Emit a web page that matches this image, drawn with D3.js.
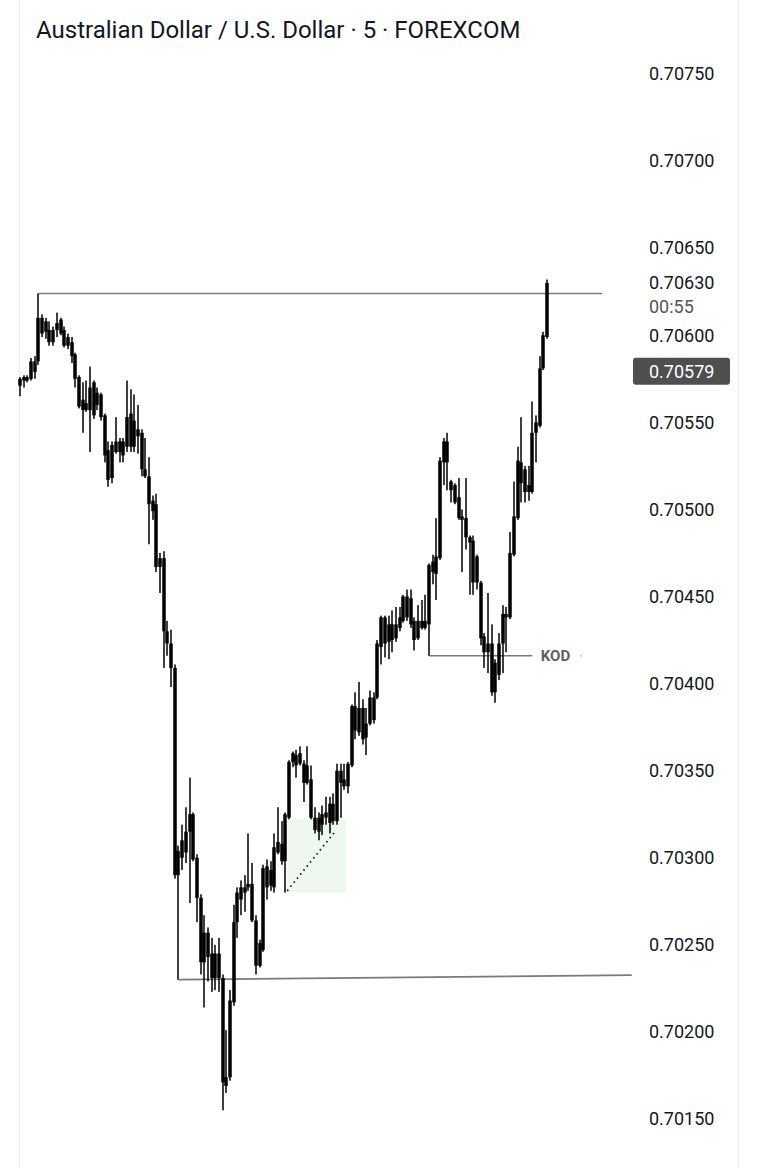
<!DOCTYPE html>
<html>
<head>
<meta charset="utf-8">
<script src="https://cdn.jsdelivr.net/npm/d3@7"></script>
<style>
  html, body { margin: 0; padding: 0; background: #fff; }
  svg { display: block; font-family: Roboto, "Noto Sans", sans-serif; }
</style>
</head>
<body>
<div id="chart"></div>
<script>
// AUD/USD 5m candles
var opens = [0.70571,0.70574,0.70576,0.70575,0.70585,0.70585,0.70610,0.70602,0.70603,0.70596,
  0.70603,0.70609,0.70603,0.70594,0.70596,0.70589,0.70576,0.70563,0.70557,0.70557,
  0.70573,0.70560,0.70566,0.70554,0.70534,0.70518,0.70539,0.70533,0.70539,0.70536,
  0.70555,0.70551,0.70542,0.70544,0.70523,0.70519,0.70505,0.70503,0.70467,0.70472,
  0.70430,0.70423,0.70409,0.70290,0.70300,0.70315,0.70315,0.70325,0.70300,0.70277,
  0.70240,0.70257,0.70245,0.70231,0.70245,0.70231,0.70169,0.70174,0.70217,0.70263,
  0.70276,0.70283,0.70283,0.70285,0.70264,0.70238,0.70247,0.70295,0.70284,0.70283,
  0.70303,0.70308,0.70298,0.70323,0.70355,0.70359,0.70354,0.70354,0.70343,0.70345,
  0.70323,0.70315,0.70325,0.70323,0.70331,0.70321,0.70321,0.70350,0.70345,0.70341,
  0.70353,0.70387,0.70372,0.70386,0.70369,0.70377,0.70392,0.70392,0.70421,0.70438,
  0.70424,0.70434,0.70426,0.70432,0.70436,0.70450,0.70449,0.70436,0.70426,0.70436,
  0.70432,0.70434,0.70470,0.70463,0.70472,0.70527,0.70539,0.70516,0.70514,0.70507,
  0.70496,0.70495,0.70484,0.70482,0.70458,0.70458,0.70427,0.70418,0.70423,0.70395,
  0.70405,0.70423,0.70440,0.70438,0.70474,0.70495,0.70527,0.70523,0.70510,0.70510,
  0.70544,0.70548,0.70581,0.70599];
var highs = [0.70576,0.70577,0.70577,0.70587,0.70588,0.70624,0.70612,0.70610,0.70608,0.70605,
  0.70613,0.70610,0.70605,0.70601,0.70599,0.70590,0.70577,0.70573,0.70574,0.70582,
  0.70574,0.70570,0.70567,0.70555,0.70539,0.70539,0.70553,0.70541,0.70541,0.70574,
  0.70569,0.70566,0.70560,0.70546,0.70541,0.70530,0.70508,0.70509,0.70475,0.70476,
  0.70436,0.70431,0.70411,0.70307,0.70319,0.70329,0.70346,0.70326,0.70302,0.70279,
  0.70267,0.70260,0.70254,0.70250,0.70254,0.70233,0.70201,0.70224,0.70273,0.70283,
  0.70287,0.70290,0.70314,0.70297,0.70267,0.70253,0.70296,0.70299,0.70298,0.70314,
  0.70329,0.70321,0.70326,0.70356,0.70361,0.70362,0.70364,0.70356,0.70364,0.70353,
  0.70329,0.70326,0.70330,0.70335,0.70335,0.70337,0.70354,0.70354,0.70354,0.70355,
  0.70388,0.70395,0.70401,0.70391,0.70386,0.70396,0.70395,0.70425,0.70439,0.70439,
  0.70439,0.70442,0.70444,0.70444,0.70451,0.70454,0.70454,0.70438,0.70445,0.70448,
  0.70451,0.70469,0.70474,0.70495,0.70530,0.70541,0.70544,0.70517,0.70515,0.70518,
  0.70500,0.70518,0.70485,0.70485,0.70474,0.70459,0.70429,0.70452,0.70434,0.70414,
  0.70429,0.70445,0.70444,0.70487,0.70516,0.70536,0.70553,0.70525,0.70525,0.70562,
  0.70554,0.70588,0.70602,0.70632];
var lows = [0.70565,0.70570,0.70573,0.70574,0.70575,0.70583,0.70599,0.70598,0.70594,0.70594,
  0.70599,0.70600,0.70593,0.70592,0.70584,0.70570,0.70558,0.70544,0.70556,0.70533,
  0.70552,0.70557,0.70551,0.70527,0.70513,0.70515,0.70532,0.70527,0.70527,0.70533,
  0.70533,0.70533,0.70532,0.70519,0.70518,0.70480,0.70494,0.70464,0.70452,0.70409,
  0.70416,0.70398,0.70288,0.70230,0.70293,0.70297,0.70274,0.70298,0.70263,0.70233,
  0.70214,0.70229,0.70223,0.70224,0.70223,0.70155,0.70165,0.70172,0.70215,0.70254,
  0.70267,0.70269,0.70281,0.70263,0.70233,0.70237,0.70246,0.70276,0.70281,0.70280,
  0.70302,0.70296,0.70280,0.70322,0.70352,0.70346,0.70353,0.70332,0.70342,0.70322,
  0.70314,0.70310,0.70313,0.70319,0.70314,0.70319,0.70319,0.70323,0.70339,0.70337,
  0.70352,0.70368,0.70370,0.70365,0.70359,0.70376,0.70377,0.70391,0.70411,0.70415,
  0.70414,0.70418,0.70424,0.70430,0.70435,0.70436,0.70432,0.70419,0.70425,0.70431,
  0.70431,0.70416,0.70457,0.70448,0.70471,0.70514,0.70511,0.70504,0.70503,0.70494,
  0.70464,0.70477,0.70451,0.70451,0.70454,0.70422,0.70409,0.70406,0.70393,0.70389,
  0.70402,0.70406,0.70418,0.70437,0.70473,0.70494,0.70504,0.70504,0.70505,0.70509,
  0.70527,0.70547,0.70580,0.70598];
var closes = [0.70575,0.70576,0.70574,0.70585,0.70579,0.70610,0.70601,0.70608,0.70596,0.70603,
  0.70607,0.70601,0.70594,0.70599,0.70588,0.70575,0.70559,0.70557,0.70561,0.70570,
  0.70554,0.70567,0.70553,0.70531,0.70517,0.70537,0.70533,0.70539,0.70531,0.70553,
  0.70536,0.70536,0.70546,0.70523,0.70519,0.70503,0.70499,0.70467,0.70472,0.70430,
  0.70423,0.70409,0.70290,0.70304,0.70310,0.70303,0.70325,0.70299,0.70277,0.70240,
  0.70257,0.70243,0.70231,0.70245,0.70231,0.70171,0.70174,0.70218,0.70263,0.70280,
  0.70283,0.70280,0.70285,0.70264,0.70238,0.70251,0.70294,0.70283,0.70293,0.70306,
  0.70309,0.70298,0.70325,0.70355,0.70360,0.70353,0.70360,0.70343,0.70353,0.70323,
  0.70316,0.70323,0.70319,0.70326,0.70320,0.70331,0.70350,0.70343,0.70341,0.70354,
  0.70387,0.70373,0.70386,0.70368,0.70377,0.70392,0.70379,0.70423,0.70438,0.70423,
  0.70434,0.70425,0.70434,0.70438,0.70450,0.70438,0.70434,0.70425,0.70436,0.70432,
  0.70436,0.70468,0.70464,0.70473,0.70528,0.70539,0.70527,0.70511,0.70504,0.70495,
  0.70494,0.70484,0.70481,0.70458,0.70473,0.70426,0.70418,0.70423,0.70395,0.70412,
  0.70423,0.70440,0.70438,0.70475,0.70496,0.70528,0.70515,0.70510,0.70514,0.70544,
  0.70550,0.70581,0.70600,0.70630];

var priceTicks = [0.7015, 0.7020, 0.7025, 0.7030, 0.7035, 0.7040, 0.7045,
  0.7050, 0.7055, 0.7060, 0.7065, 0.7070, 0.7075];
var lastPrice = 0.70630;
var countdown = '00:55';
var markedPrice = 0.70579;
var title = 'Australian Dollar / U.S. Dollar \u00b7 5 \u00b7 FOREXCOM';

// drawings, anchored on bar index + price
var trendLines = [
  { i1: 5, p1: 0.70624, i2: 158, p2: 0.70624 },
  { i1: 43, p1: 0.70230, i2: 166, p2: 0.702326 },
  { i1: 111, p1: 0.70416, i2: 139, p2: 0.70416 }
];
var kodLabel = { i: 141.3, p: 0.70416, text: 'KOD' };
var rangeBox = { i1: 72.5, i2: 88.5, pTop: 0.70322, pBottom: 0.70280 };
var dottedLine = { i1: 72.5, p1: 0.70281, i2: 85.5, p2: 0.70315 };

(function() {
  var width = 759;
  var height = 1168;
  var n = opens.length;

  var x = d3.scaleLinear().domain([0, n - 1]).range([20, 547]);
  var y = d3.scaleLinear().domain([0.7015, 0.7075]).range([1119, 74]);

  var svg = d3.select('#chart').append('svg')
    .attr('width', width).attr('height', height);

  svg.append('rect').attr('width', width).attr('height', height).attr('fill', '#fff');

  // pane borders
  svg.append('line').attr('x1', 19.5).attr('x2', 19.5).attr('y1', 0).attr('y2', height)
    .attr('stroke', '#ececec');
  svg.append('line').attr('x1', 738.5).attr('x2', 738.5).attr('y1', 0).attr('y2', height)
    .attr('stroke', '#ececec');

  svg.append('text')
    .attr('x', 36).attr('y', 38)
    .attr('font-size', 24)
    .attr('fill', '#131722')
    .text(title);

  // range box behind candles
  svg.append('rect')
    .attr('x', x(rangeBox.i1))
    .attr('y', y(rangeBox.pTop))
    .attr('width', x(rangeBox.i2) - x(rangeBox.i1))
    .attr('height', y(rangeBox.pBottom) - y(rangeBox.pTop))
    .attr('fill', '#eef8ef');

  var lines = svg.append('g').attr('class', 'drawings');
  lines.selectAll('line')
    .data(trendLines)
    .enter().append('line')
    .attr('x1', function(d) { return x(d.i1); })
    .attr('y1', function(d) { return y(d.p1); })
    .attr('x2', function(d) { return x(d.i2); })
    .attr('y2', function(d) { return y(d.p2); })
    .attr('stroke', '#7a7a7a')
    .attr('stroke-width', 1.6);

  // candles, all drawn black
  var idx = d3.range(n);
  var candles = svg.append('g').attr('class', 'candles');
  candles.selectAll('.wick')
    .data(idx)
    .enter().append('rect')
    .attr('class', 'wick')
    .attr('x', function(i) { return Math.round(x(i)) - 0.75; })
    .attr('y', function(i) { return y(highs[i]); })
    .attr('width', 1.5)
    .attr('height', function(i) { return Math.max(1, y(lows[i]) - y(highs[i])); })
    .attr('fill', '#000');
  candles.selectAll('.body')
    .data(idx)
    .enter().append('rect')
    .attr('class', 'body')
    .attr('x', function(i) { return Math.round(x(i)) - 1.75; })
    .attr('y', function(i) { return y(Math.max(opens[i], closes[i])); })
    .attr('width', 3.5)
    .attr('height', function(i) { return Math.max(1.5, Math.abs(y(opens[i]) - y(closes[i]))); })
    .attr('fill', '#000');

  svg.append('line')
    .attr('x1', x(dottedLine.i1)).attr('y1', y(dottedLine.p1))
    .attr('x2', x(dottedLine.i2)).attr('y2', y(dottedLine.p2))
    .attr('stroke', '#222')
    .attr('stroke-width', 1.8)
    .attr('stroke-dasharray', '1.6,3.6');

  svg.append('text')
    .attr('x', x(kodLabel.i)).attr('y', y(kodLabel.p))
    .attr('dy', '0.35em')
    .attr('font-size', 15)
    .attr('font-weight', 'bold')
    .attr('fill', '#606060')
    .text(kodLabel.text);
  svg.append('circle')
    .attr('cx', 581).attr('cy', y(kodLabel.p))
    .attr('r', 1)
    .attr('fill', '#c8c8c8');

  // price scale
  var axis = d3.axisRight(y)
    .tickValues(priceTicks)
    .tickFormat(d3.format('.5f'))
    .tickSize(0)
    .tickPadding(0);
  var gAxis = svg.append('g')
    .attr('transform', 'translate(649,0)')
    .call(axis);
  gAxis.select('.domain').remove();
  gAxis.selectAll('text')
    .attr('font-family', 'Roboto, sans-serif')
    .attr('font-size', 18)
    .attr('fill', '#131722');

  svg.append('text')
    .attr('x', 649).attr('y', y(lastPrice)).attr('dy', '0.35em')
    .attr('font-size', 18).attr('fill', '#131722')
    .text(d3.format('.5f')(lastPrice));
  svg.append('text')
    .attr('x', 649).attr('y', y(lastPrice) + 24).attr('dy', '0.35em')
    .attr('font-size', 18).attr('fill', '#555')
    .text(countdown);

  svg.append('rect')
    .attr('x', 633).attr('y', y(markedPrice) - 14)
    .attr('width', 97).attr('height', 27)
    .attr('rx', 3)
    .attr('fill', '#4f4f4f');
  svg.append('text')
    .attr('x', 649).attr('y', y(markedPrice)).attr('dy', '0.35em')
    .attr('font-size', 18).attr('fill', '#fff')
    .text(d3.format('.5f')(markedPrice));
}).call(this);
</script>
</body>
</html>
